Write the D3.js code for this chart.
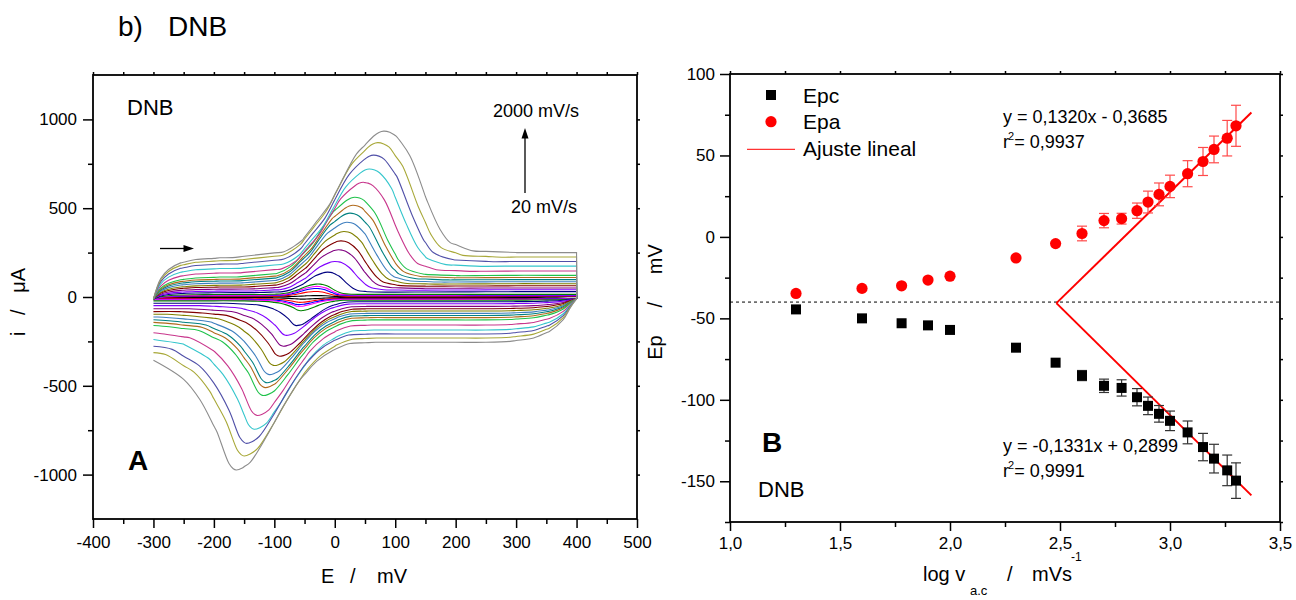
<!DOCTYPE html>
<html>
<head>
<meta charset="utf-8">
<script src="https://cdn.jsdelivr.net/npm/d3@7"></script>
<style>
  body { margin: 0; background: #fff; }
  svg { font-family: "Liberation Sans", Arial, sans-serif; }
  .pre { white-space: pre; }
</style>
</head>
<body>
<svg width="1296" height="600"></svg>
<script>
// ---------- panel A: one voltammogram per scan rate (mV/s) ----------
const scanRates = [20, 40, 60, 80, 100, 200, 300, 400, 500, 600, 700, 800, 900, 1000, 1200, 1400, 1600, 1800, 2000];
const curveColors = ["#000000", "#ff0000", "#0000ff", "#ff00ff", "#008000", "#000080", "#8000ff", "#800080",
  "#800000", "#808000", "#3f7fbf", "#008080", "#b06a1c", "#1fc24a", "#c8368c", "#35c6cc", "#5050a8", "#a8a838", "#8c8c8c"];
const anodicPeakE = [-30, -32, -31, -30, -28, -12, 0, 6, 10, 15, 20, 25, 30, 33, 47, 57, 64, 71, 81];
const anodicPeakI = [8, 31, 48, 60, 73, 140, 200, 266, 316, 369, 421, 472, 517, 562, 646, 721, 799, 869, 934];
const cathodicPeakE = [-55, -58, -60, -60, -57, -63, -80, -85, -91, -100, -108, -112, -115, -118, -128, -133, -146, -150, -163];
const cathodicPeakI = [-12, -30, -43, -53, -77, -161, -216, -277, -334, -386, -437, -483, -510, -555, -667, -745, -824, -895, -974];
const fwdPlateau = [1, 4, 7, 10, 14, 24, 33, 44, 56, 66, 78, 90, 100, 112, 135, 160, 185, 204, 220];
const fwdEnd = [2, 5, 8, 11, 15, 30, 41, 51, 63, 75, 86, 98, 110, 122, 146, 174, 200, 225, 250];
const revPlateau = [-4, -8, -11, -14, -18, -27, -38, -53, -66, -79, -92, -104, -116, -129, -158, -186, -208, -231, -255];
const peakWidth = [0.35, 0.35, 0.36, 0.37, 0.38, 0.45, 0.55, 0.6, 0.64, 0.68, 0.71, 0.74, 0.76, 0.78, 0.82, 0.86, 0.9, 0.95, 1.0];

// peak shapes (mV from the peak, fraction of peak height)
const anodicShapeDE = [-250, -165, -135, -111, -89, -72, -45, -17, -8, 0, 10, 20, 43, 71, 93, 110, 148, 220];
const anodicShapeFrac = [0, 0.04, 0.13, 0.28, 0.42, 0.58, 0.82, 0.96, 0.99, 1, 0.99, 0.96, 0.80, 0.44, 0.20, 0.09, 0.02, 0];
const cathodicShapeDE = [-260, -200, -137, -87, -60, -32, -12, -5, 0, 10, 23, 51, 78, 106, 133, 161, 188, 230];
const cathodicShapeFrac = [0.06, 0.09, 0.14, 0.29, 0.45, 0.70, 0.95, 0.99, 1, 0.985, 0.94, 0.73, 0.50, 0.29, 0.15, 0.06, 0.01, 0];
// charging current at both switching potentials
const chargeUpDE = [0, 5, 12, 25, 45, 70, 110];
const chargeUpFrac = [0, 0.25, 0.5, 0.72, 0.88, 0.96, 1];
const chargeDownDE = [0, 10, 22, 45, 71, 110, 150];
const chargeDownFrac = [0, 0.2, 0.48, 0.75, 0.9, 0.98, 1];
const sweepStart = -300, sweepEnd = 400, startCurrent = -12, reverseCurrent = -10;

const leftXTicks = [-400, -300, -200, -100, 0, 100, 200, 300, 400, 500];
const leftXMinor = [-350, -250, -150, -50, 50, 150, 250, 350, 450];
const leftYTicks = [-1000, -500, 0, 500, 1000];
const leftYMinor = [-750, -250, 250, 750];

// ---------- panel B: peak potentials vs log scan rate ----------
const logRate = [1.30, 1.60, 1.78, 1.90, 2.00, 2.30, 2.48, 2.60, 2.70, 2.78, 2.85, 2.90, 2.95, 3.00, 3.08, 3.15, 3.20, 3.26, 3.30];
const epa = [-34.7, -31.6, -30.0, -26.5, -24.1, -12.9, -4.1, 2.1, 10.0, 11.2, 16.1, 21.4, 26.1, 31.0, 38.8, 46.3, 53.7, 60.6, 68.2];
const epaErr = [0, 0, 0, 0, 0, 0, 0, 4.5, 4.4, 3.3, 4.7, 6.7, 7.0, 6.9, 8.0, 8.6, 8.2, 10.9, 12.6];
const epc = [-44.5, -50.0, -53.0, -54.3, -57.1, -68.0, -77.2, -85.1, -91.4, -92.7, -98.4, -103.7, -108.6, -112.9, -120.0, -129.0, -136.1, -143.3, -149.6];
const epcErr = [0, 0, 0, 0, 0, 0, 0, 3.1, 4.1, 5.0, 5.3, 5.4, 5.1, 6.0, 7.0, 8.4, 8.8, 9.4, 10.9];
const fitSlope = [132.0, -133.1];      // mV per decade
const fitIntercept = [-368.5, 289.9];  // mV
const fitEnd = 3.37;
const baselineEp = -40;

const rightXTicks = [1.0, 1.5, 2.0, 2.5, 3.0, 3.5];
const rightXMinor = [1.25, 1.75, 2.25, 2.75, 3.25];
const rightYTicks = [-150, -100, -50, 0, 50, 100];
const rightYMinor = [-175, -125, -75, -25, 25, 75];

const svg = d3.select("svg");

const xL = d3.scaleLinear().domain([-400, 500]).range([93, 637]);
const yL = d3.scaleLinear().domain([-1250, 1250]).range([519, 75]);
const xR = d3.scaleLinear().domain([1, 3.5]).range([730, 1280]);
const yR = d3.scaleLinear().domain([-175, 100]).range([522, 74]);

function drawFrame(x, y, xTicks, xMinor, yTicks, yMinor, fmtX, padX, padY) {
  const [x0, x1] = x.range();
  const [y0, y1] = y.range();
  const g = svg.append("g");
  const add = (axis, tr) => g.append("g").attr("transform", tr).call(axis)
    .attr("font-family", null).attr("font-size", 17)
    .call(a => a.select(".domain").remove())
    .call(a => a.selectAll("line").attr("stroke", "#000").attr("stroke-width", 1.5))
    .call(a => a.selectAll("text").attr("fill", "#000"));
  add(d3.axisBottom(x).tickValues(xMinor).tickSize(5).tickFormat(""), `translate(0,${y0})`);
  add(d3.axisBottom(x).tickValues(xTicks).tickSize(9).tickPadding(padX).tickFormat(fmtX), `translate(0,${y0})`);
  add(d3.axisTop(x).tickValues(xTicks.concat(xMinor)).tickSize(3).tickFormat(""), `translate(0,${y1})`);
  add(d3.axisLeft(y).tickValues(yMinor).tickSize(5).tickFormat(""), `translate(${x0},0)`);
  add(d3.axisLeft(y).tickValues(yTicks).tickSize(10).tickPadding(padY).tickFormat(d => String(d)), `translate(${x0},0)`);
  add(d3.axisRight(y).tickValues(yTicks.concat(yMinor)).tickSize(3).tickFormat(""), `translate(${x1},0)`);
  g.append("rect").attr("x", x0).attr("y", y1).attr("width", x1 - x0).attr("height", y0 - y1)
    .attr("fill", "none").attr("stroke", "#000").attr("stroke-width", 1.8);
}

// ---------- panel A curves ----------
const anodicShape = d3.scaleLinear().domain(anodicShapeDE).range(anodicShapeFrac).clamp(true);
const cathodicShape = d3.scaleLinear().domain(cathodicShapeDE).range(cathodicShapeFrac).clamp(true);
const chargeUp = d3.scaleLinear().domain(chargeUpDE).range(chargeUpFrac).clamp(true);
const chargeDown = d3.scaleLinear().domain(chargeDownDE).range(chargeDownFrac).clamp(true);
const sweepGrid = d3.range(-250, 400, 50);

function nodes(list) {
  const kept = list.map(Math.round).filter(e => e >= sweepStart && e <= sweepEnd);
  return Array.from(new Set(kept)).sort((a, b) => a - b);
}

function forwardScan(k) {
  const w = peakWidth[k];
  const base = d3.scaleLinear().domain([-200, 300]).range([fwdPlateau[k], fwdEnd[k]]).clamp(true);
  const ha = anodicPeakI[k] - base(anodicPeakE[k]);
  const fwdE = nodes([sweepStart, sweepEnd, ...sweepGrid,
    ...chargeUpDE.map(d => sweepStart + d), ...anodicShapeDE.map(d => anodicPeakE[k] + d * w)]);
  return fwdE.map(e => [e, startCurrent + (base(e) - startCurrent) * chargeUp(e - sweepStart)
    + ha * anodicShape((e - anodicPeakE[k]) / w)]);
}

function reverseScan(k) {
  const w = peakWidth[k];
  const hc = cathodicPeakI[k] - revPlateau[k];
  const revE = nodes([sweepStart, sweepEnd, ...sweepGrid,
    ...chargeDownDE.map(d => sweepEnd - d), ...cathodicShapeDE.map(d => cathodicPeakE[k] + d * w)]).reverse();
  return revE.map(e => [e, reverseCurrent + (revPlateau[k] - reverseCurrent) * chargeDown(sweepEnd - e)
    + hc * cathodicShape((e - cathodicPeakE[k]) / w)]);
}

const cvLine = d3.line()
  .curve(d3.curveCatmullRom.alpha(0.5))
  .x(d => xL(d[0]))
  .y(d => yL(d[1]));

// forward and reverse sweeps joined by a straight step at the switching potential
svg.append("g")
  .selectAll("path")
  .data(scanRates.map((r, k) => k))
  .enter()
  .append("path")
  .attr("d", k => cvLine(forwardScan(k)) + cvLine(reverseScan(k)).replace(/^M/, "L"))
  .attr("fill", "none")
  .attr("stroke", k => curveColors[k])
  .attr("stroke-width", 1.1);

drawFrame(xL, yL, leftXTicks, leftXMinor, leftYTicks, leftYMinor, d => String(d), 8, 6);

// annotations, panel A
svg.append("text").attr("x", 127).attr("y", 115).attr("font-size", 22).text("DNB");
svg.append("text").attr("x", 128).attr("y", 470).attr("font-size", 28).attr("font-weight", "bold").text("A");
svg.append("text").attr("x", 493).attr("y", 117).attr("font-size", 18).text("2000 mV/s");
svg.append("text").attr("x", 511).attr("y", 213).attr("font-size", 18).text("20 mV/s");
svg.append("line").attr("x1", 525).attr("x2", 525).attr("y1", 193).attr("y2", 137).attr("stroke", "#000").attr("stroke-width", 1.3);
svg.append("path").attr("d", "M525,128 L521.5,138.5 L528.5,138.5 Z").attr("fill", "#000");
svg.append("line").attr("x1", 160).attr("x2", 185).attr("y1", 248.5).attr("y2", 248.5).attr("stroke", "#000").attr("stroke-width", 1.3);
svg.append("path").attr("d", "M194,248.5 L183.5,245 L183.5,252 Z").attr("fill", "#000");

svg.append("text").attr("x", 118).attr("y", 36).attr("font-size", 28).text("b)");
svg.append("text").attr("x", 168).attr("y", 36).attr("font-size", 28).text("DNB");

svg.append("text").attr("x", 321).attr("y", 583).attr("font-size", 20).text("E");
svg.append("text").attr("x", 350).attr("y", 583).attr("font-size", 20).text("/");
svg.append("text").attr("x", 377).attr("y", 583).attr("font-size", 20).text("mV");
svg.append("text").attr("class", "pre").attr("font-size", 20).attr("text-anchor", "middle")
  .attr("transform", "translate(25,302) rotate(-90)").text("i   /   μA");

// ---------- panel B ----------
svg.append("line")
  .attr("x1", xR(1)).attr("x2", xR(3.5))
  .attr("y1", yR(baselineEp)).attr("y2", yR(baselineEp))
  .attr("stroke", "#000").attr("stroke-width", 1).attr("stroke-dasharray", "3,3");

const fitStart = (fitIntercept[1] - fitIntercept[0]) / (fitSlope[0] - fitSlope[1]);
svg.append("g")
  .selectAll("line")
  .data(fitSlope.map((s, j) => j))
  .enter()
  .append("line")
  .attr("x1", xR(fitStart)).attr("y1", j => yR(fitSlope[j] * fitStart + fitIntercept[j]))
  .attr("x2", xR(fitEnd)).attr("y2", j => yR(fitSlope[j] * fitEnd + fitIntercept[j]))
  .attr("stroke", "#ff0000").attr("stroke-width", 2);

function errorBars(vals, errs, color) {
  const g = svg.append("g").attr("stroke", color).attr("stroke-width", 1.2);
  logRate.forEach((x, i) => {
    if (!errs[i]) return;
    const top = yR(vals[i] + errs[i]), bot = yR(vals[i] - errs[i]), cx = xR(x);
    g.append("line").attr("x1", cx).attr("x2", cx).attr("y1", top).attr("y2", bot);
    g.append("line").attr("x1", cx - 5).attr("x2", cx + 5).attr("y1", top).attr("y2", top);
    g.append("line").attr("x1", cx - 5).attr("x2", cx + 5).attr("y1", bot).attr("y2", bot);
  });
}
errorBars(epc, epcErr, "#333333");
errorBars(epa, epaErr, "#ff4a4a");

svg.append("g")
  .selectAll("rect")
  .data(epc)
  .enter()
  .append("rect")
  .attr("x", (d, i) => xR(logRate[i]) - 5)
  .attr("y", d => yR(d) - 5)
  .attr("width", 10).attr("height", 10)
  .attr("fill", "#000");

svg.append("g")
  .selectAll("circle")
  .data(epa)
  .enter()
  .append("circle")
  .attr("cx", (d, i) => xR(logRate[i]))
  .attr("cy", d => yR(d))
  .attr("r", 5.6)
  .attr("fill", "#ff0000");

drawFrame(xR, yR, rightXTicks, rightXMinor, rightYTicks, rightYMinor, d => d.toFixed(1).replace(".", ","), 6, 5);

// legend
svg.append("rect").attr("x", 766).attr("y", 90).attr("width", 10).attr("height", 10).attr("fill", "#000");
svg.append("circle").attr("cx", 771).attr("cy", 121.7).attr("r", 5.6).attr("fill", "#ff0000");
svg.append("line").attr("x1", 747).attr("x2", 795).attr("y1", 149.3).attr("y2", 149.3).attr("stroke", "#ff0000").attr("stroke-width", 1);
svg.append("text").attr("x", 803).attr("y", 102.7).attr("font-size", 21).text("Epc");
svg.append("text").attr("x", 803).attr("y", 129.3).attr("font-size", 21).text("Epa");
svg.append("text").attr("x", 803).attr("y", 156).attr("font-size", 21).text("Ajuste lineal");

function fitLabel(x, y, eq, r2) {
  svg.append("text").attr("x", x).attr("y", y).attr("font-size", 18).text(eq);
  const t = svg.append("text").attr("x", x).attr("y", y + 25).attr("font-size", 18);
  t.append("tspan").text("r");
  t.append("tspan").attr("font-size", 11).attr("dy", -8).attr("dx", -1).text("2");
  t.append("tspan").attr("dy", 8).text("= " + r2);
}
fitLabel(1003, 123.3, "y = 0,1320x - 0,3685", "0,9937");
fitLabel(1003, 451.7, "y = -0,1331x + 0,2899", "0,9991");

svg.append("text").attr("x", 762).attr("y", 451.5).attr("font-size", 28).attr("font-weight", "bold").text("B");
svg.append("text").attr("x", 758).attr("y", 496.7).attr("font-size", 22).text("DNB");

svg.append("text").attr("x", 923).attr("y", 581).attr("font-size", 20).text("log v");
svg.append("text").attr("x", 970).attr("y", 595).attr("font-size", 13).text("a.c");
svg.append("text").attr("x", 1007).attr("y", 581).attr("font-size", 20).text("/");
svg.append("text").attr("x", 1032).attr("y", 581).attr("font-size", 20).text("mVs");
svg.append("text").attr("x", 1071).attr("y", 561).attr("font-size", 12).text("-1");
svg.append("text").attr("class", "pre").attr("font-size", 20).attr("text-anchor", "middle")
  .attr("transform", "translate(662,302) rotate(-90)").text("Ep     /     mV");
</script>
</body>
</html>
